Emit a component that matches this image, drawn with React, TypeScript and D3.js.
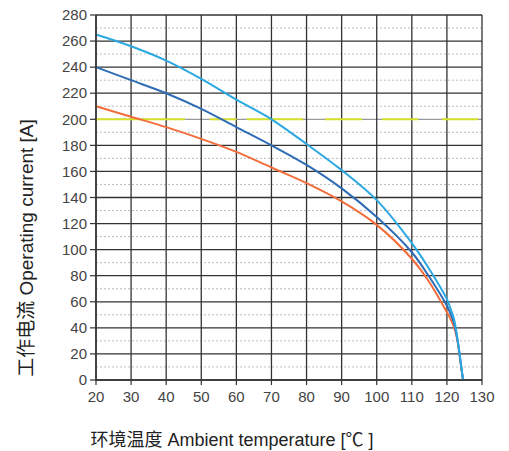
import React from "react";
import * as d3 from "d3";

const temps = [20, 30, 40, 50, 60, 70, 80, 90, 100, 110, 115, 120, 121, 122, 123, 124, 124.6];
const lightBlue = [265, 256, 245, 231, 215, 200, 181, 161, 138, 105, 85, 62, 55, 47, 32, 12, 0];
const darkBlue = [240, 230, 220, 208, 194, 180, 165, 147, 125, 98, 79, 57, 51, 44, 31, 12, 0];
const orange = [210, 202, 194, 185, 175, 163, 151, 137, 119, 93, 75, 52, 47, 41, 30, 11, 0];

const xTicks = [20, 30, 40, 50, 60, 70, 80, 90, 100, 110, 120, 130];
const yTicks = [0, 20, 40, 60, 80, 100, 120, 140, 160, 180, 200, 220, 240, 260, 280];
const yMinor = [10, 30, 50, 70, 90, 110, 130, 150, 170, 190, 210, 230, 250, 270];
const limitValue = 200;
const limitSegments: [number, number][] = [
  [20, 45.3], [52.4, 60.1], [63, 79], [85.3, 95.8], [101.5, 111.8], [118.6, 128.9],
];

const series = [
  { name: "orange", values: orange, color: "#f26d3a" },
  { name: "darkBlue", values: darkBlue, color: "#2e6db5" },
  { name: "lightBlue", values: lightBlue, color: "#2aa8e2" },
];

const W = 509;
const H = 451;
const L = 96, R = 482, T = 15, B = 380;

export default function App() {
  const x = d3.scaleLinear().domain([20, 130]).range([L, R]);
  const y = d3.scaleLinear().domain([0, 280]).range([B, T]);
  const font = "'Liberation Sans', Arial, 'Noto Sans CJK SC', sans-serif";

  const mk = (vals: number[]) =>
    d3
      .line<number>()
      .x((_, i) => x(temps[i]))
      .y((v) => y(v))
      .curve(d3.curveCatmullRom.alpha(0.5))(vals) || "";

  return (
    <svg
      width={W}
      height={H}
      style={{ position: "absolute", left: 0, top: 0, background: "#fff" }}
      fontFamily={font}
    >
      <rect x={0} y={0} width={W} height={H} fill="#fff" />
      {yMinor.map((v) => (
        <line key={"m" + v} x1={L} x2={R} y1={y(v)} y2={y(v)} stroke="#bdbdbd" strokeWidth={1} strokeDasharray="2,2" />
      ))}
      {yTicks.map((v) => (
        <line key={"h" + v} x1={L} x2={R} y1={y(v)} y2={y(v)} stroke={v === limitValue ? "#9a9a9a" : "#333"} strokeWidth={1.3} />
      ))}
      {xTicks.map((v) => (
        <line key={"v" + v} x1={x(v)} x2={x(v)} y1={T} y2={B} stroke="#333" strokeWidth={1.3} />
      ))}
      {limitSegments.map(([a, b], i) => (
        <line key={"l" + i} x1={x(a)} x2={x(b)} y1={y(limitValue)} y2={y(limitValue)} stroke="#d6e02a" strokeWidth={2} />
      ))}
      {series.map((s) => (
        <path key={s.name} d={mk(s.values)} fill="none" stroke={s.color} strokeWidth={2} />
      ))}
      <line x1={L} x2={L} y1={T} y2={B + 1} stroke="#333" strokeWidth={1.5} />
      <line x1={L} x2={R} y1={B} y2={B} stroke="#333" strokeWidth={1.5} />
      {yTicks.map((v) => (
        <g key={"yt" + v}>
          <line x1={L - 6} x2={L} y1={y(v)} y2={y(v)} stroke="#333" strokeWidth={1.2} />
          <text x={L - 9} y={y(v)} dy="0.35em" textAnchor="end" fontSize={15} fill="#444">
            {v}
          </text>
        </g>
      ))}
      {xTicks.map((v) => (
        <g key={"xt" + v}>
          <line x1={x(v)} x2={x(v)} y1={B} y2={B + 5} stroke="#333" strokeWidth={1.2} />
          <text x={x(v)} y={B + 22} textAnchor="middle" fontSize={15} fill="#444">
            {v}
          </text>
        </g>
      ))}
      <text x={232} y={446} textAnchor="middle" fontSize={18} fill="#222">
        环境温度 Ambient temperature [℃ ]
      </text>
      <text
        transform={`translate(33, 248) rotate(-90)`}
        textAnchor="middle"
        fontSize={19}
        fill="#222"
      >
        工作电流 Operating current [A]
      </text>
    </svg>
  );
}
